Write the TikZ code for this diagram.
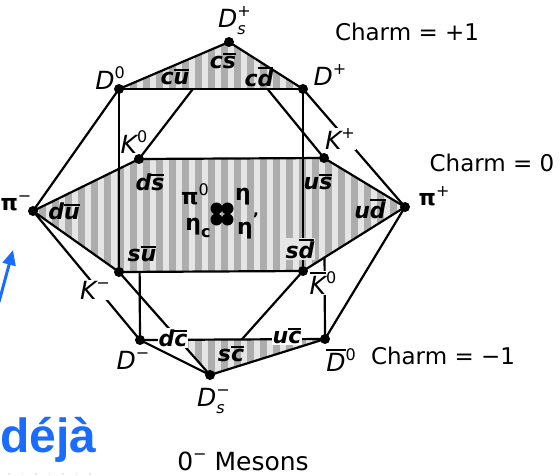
\documentclass[tikz,border=0pt]{standalone}
\usepackage{fontspec}
\setmainfont{DejaVu Sans}
\newfontfamily\arialb{Liberation Sans}
\usetikzlibrary{arrows.meta}
\newcommand\Sup[1]{\raisebox{0.42em}{\fontsize{16}{16}\selectfont\mdseries\upshape #1}}
\newcommand\Sub[1]{\raisebox{-0.3em}{\fontsize{16}{16}\selectfont #1}}
\newcommand\qb[1]{\leavevmode\vbox{\hrule height 2pt\kern 1.5pt\hbox{#1}}}
\newcommand\stripes[1]{%
  \begin{scope}
    \clip #1;
    \fill[basefill] (0,0) rectangle (560,476);
    \foreach \x in {0,13,...,430} \fill[stripefill] (\x,0) rectangle ++(6.5,476);
  \end{scope}}
\tikzset{
  dot/.style={circle, fill=black, inner sep=0pt, minimum size=10pt},
  edge/.style={line width=2.2pt, line cap=round},
  plab/.style={font=\fontsize{25}{25}\selectfont\itshape, inner sep=1pt},
  qlab/.style={font=\fontsize{22}{22}\selectfont\bfseries\itshape, inner sep=1pt},
  glab/.style={font=\fontsize{22}{22}\selectfont\bfseries, inner sep=1pt},
  clab/.style={font=\fontsize{23}{23}\selectfont, inner sep=1pt},
  stripefill/.style={fill=black!32},
  basefill/.style={fill=black!10},
  bluec/.style={color={rgb,255:red,26;green,108;blue,255}},
}
\begin{document}
\begin{tikzpicture}[x=1pt,y=-1pt]
\useasboundingbox (0,0) rectangle (560,476);
% vertices
\coordinate (Dsp) at (229,42);
\coordinate (D0) at (119,89);
\coordinate (Dp) at (303,89);
\coordinate (K0) at (139,159);
\coordinate (Kp) at (324,158);
\coordinate (pim) at (33,211);
\coordinate (pip) at (405,207);
\coordinate (Km) at (119,272);
\coordinate (Kb0) at (303,271);
\coordinate (Dm) at (140,340);
\coordinate (Db0) at (325,339);
\coordinate (Dsm) at (210,375);
\coordinate (bsh) at (179,340);
% hidden edges (partly covered by the shaded planes)
\draw[edge] (Dsp) -- (K0);
\draw[edge] (Dsp) -- (Kp);
\draw[edge] (Dsm) -- (Kb0);
\draw[edge] (Dm) -- (K0);
\draw[edge] (Db0) -- (Kp);
% shaded planes
\stripes{(Dsp) -- (D0) -- (Dp) -- cycle}
\stripes{(pim) -- (K0) -- (Kp) -- (pip) -- (Kb0) -- (Km) -- cycle}
\stripes{(bsh) -- (Db0) -- (Dsm) -- cycle}
% visible edges
\draw[edge] (Dsp) -- (D0);
\draw[edge] (Dsp) -- (Dp);
\draw[edge] (D0) -- (Dp);
\draw[edge] (D0) -- (pim);
\draw[edge] (D0) -- (Km);
\draw[edge] (Dp) -- (pip);
\draw[edge] (Dp) -- (Kb0);
\draw[edge] (pim) -- (K0);
\draw[edge] (K0) -- (Kp);
\draw[edge] (Kp) -- (pip);
\draw[edge] (pip) -- (Kb0);
\draw[edge] (Kb0) -- (Km);
\draw[edge] (Km) -- (pim);
\draw[edge] (pim) -- (Dm);
\draw[edge] (Km) -- (Dsm);
\draw[edge] (Dm) -- (Dsm);
\draw[edge] (Dsm) -- (Db0);
\draw[edge] (Dm) -- (Db0);
\draw[edge] (Db0) -- (pip);
% dots
\foreach \p in {Dsp,D0,Dp,K0,Kp,pim,pip,Km,Kb0,Dm,Db0,Dsm}
  \node[dot] at (\p) {};
% centre blob
\foreach \dx/\dy in {-5.5/-5.5,5.5/-5.5,-5.5/5.5,5.5/5.5}
  \fill (222+\dx,214+\dy) circle (6);
% particle labels
\node[plab] (lDsp) at (232,21) {D\rlap{\Sup{+}}\Sub{s}};
\node[plab] (lD0) at (110,78) {D\Sup{0}};
\node[plab] (lDp) at (330,75) {D\Sup{+}};
\node[plab] (lK0) at (134,142) {K\Sup{0}};
\node[plab, fill=white] (lKp) at (340,139) {K\Sup{+}};
\node[glab] (lpim) at (16,203) {π\Sup{−}};
\node[glab] (lpip) at (434,196) {π\Sup{+}};
\node[plab, fill=white] (lKm) at (95,290) {K\Sup{−}};
\node[plab, fill=white] (lKb0) at (323,283) {\qb{K}\Sup{0}};
\node[plab] (lDm) at (133,360) {D\Sup{−}};
\node[plab] (lDb0) at (341,360) {\qb{D}\Sup{0}};
\node[plab] (lDsm) at (211,401) {D\rlap{\Sup{−}}\Sub{s}};
% quark labels
\node[qlab] (qcu) at (175,77) {c\qb{u}};
\node[qlab] (qcs) at (223,61) {c\qb{s}};
\node[qlab] (qcd) at (259,77) {c\qb{d}};
\node[qlab] (qds) at (150,182) {d\qb{s}};
\node[qlab] (qus) at (318,182) {u\qb{s}};
\node[qlab] (qdu) at (64,211) {d\qb{u}};
\node[qlab] (qud) at (370,209) {u\qb{d}};
\node[qlab] (qsu) at (142,254) {s\qb{u}};
\node[qlab, fill=black!10] (qsd) at (300,249) {s\qb{d}};
\node[qlab, fill=white] (qdc) at (173,338) {d\qb{c}};
\node[qlab] (qsc) at (231,354) {s\qb{c}};
\node[qlab, fill=white] (quc) at (287,336) {u\qb{c}};
% neutral states
\node[glab] (gpi0) at (195,194) {π\Sup{0}};
\node[glab] (geta) at (243,197) {η};
\node[glab] (getac) at (198,228) {η\Sub{c}};
\node[glab] (getap) at (248,226) {η\Sup{\bfseries ’}};
% charm labels
\node[clab] (c1) at (407,32) {Charm = +1};
\node[clab] (c0) at (492,163) {Charm = 0};
\node[clab] (cm1) at (443,356) {Charm = −1};
\node[clab, font=\fontsize{25}{25}\selectfont] (title) at (243,461) {0\Sup{−} Mesons};
% overlay
\coordinate (arA) at (-1,302);
\coordinate (arB) at (13,250);
\draw[bluec, line width=3pt, -{Triangle[length=15pt,width=13pt]}] (arA) -- (arB);
\node[bluec, anchor=base west, inner sep=0pt, font=\arialb\bfseries\fontsize{48}{48}\selectfont] (deja) at (0,452) {déjà};
\coordinate (dl1) at (8,474);
\coordinate (dl2) at (96,474);
\draw[bluec, opacity=0.15, line width=1.5pt, dash pattern=on 1.5pt off 12pt] (dl1) -- (dl2);
\end{tikzpicture}
\end{document}
